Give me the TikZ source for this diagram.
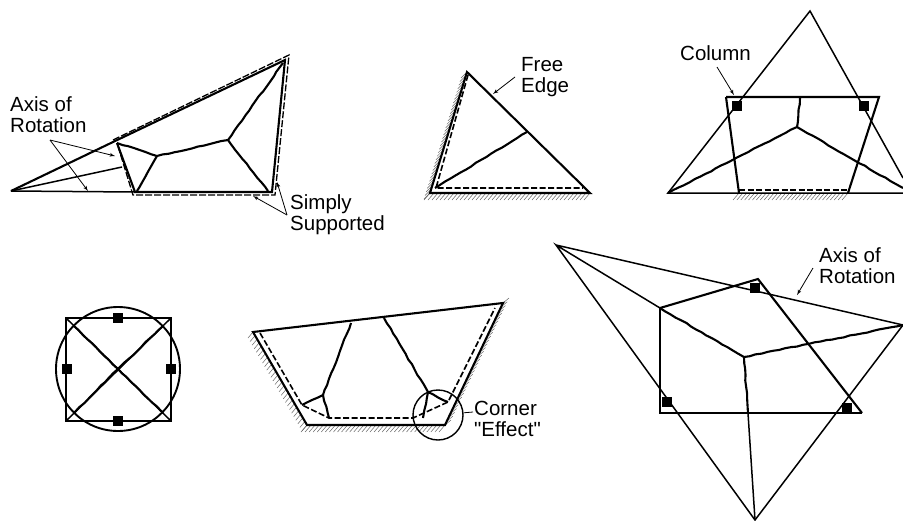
\documentclass[tikz,border=0pt]{standalone}
\usepackage{fontspec}
\newfontfamily\labelfont{Liberation Sans}
\usetikzlibrary{arrows,calc,decorations.pathmorphing}
\tikzset{
	edgeline/.style={line width=2.1pt},
	thinline/.style={line width=1.5pt},
	yieldline/.style={line width=2.1pt,decorate,decoration={random steps,segment length=6pt,amplitude=0.5pt}},
	hingeline/.style={line width=1.6pt,dash pattern=on 6pt off 2.5pt},
	hatchline/.style={line width=0.5pt,black!60},
	leader/.style={line width=0.8pt,-latex'},
	columnbox/.style={fill=black,minimum size=10pt,inner sep=0pt},
	labeltext/.style={align=left,anchor=west,inner sep=0pt,font=\labelfont\fontsize{20.5}{21}\selectfont}
}
\newcommand{\hatchband}[4]{\foreach \i in {0,...,#3} \draw[hatchline] ($(#1)!\i/#3!(#2)$) -- ++(#4);}
\begin{document}
\begin{tikzpicture}[x=1pt,y=-1pt]
	\useasboundingbox (0,0) rectangle (903,520);
	\coordinate (oa) at (11,191);
	\coordinate (ob) at (113,142);
	\coordinate (oc) at (285,60);
	\coordinate (od) at (272,192);
	\coordinate (oe) at (135,192);
	\coordinate (of) at (157,156);
	\coordinate (og) at (228,140);
	\coordinate (oh) at (122,167);
	\draw[thinline] (oa) -- (oe);
	\draw[thinline] (oa) -- (oh);
	\draw[edgeline] (oa) -- (ob) -- (oc) -- (od) -- (oe) -- (117,143);
	\draw[yieldline] (117,143) -- (of) -- (og) -- (283,63);
	\draw[yieldline] (og) -- (268,191);
	\draw[yieldline] (of) -- (137,191);
	\draw[line width=1.3pt,dash pattern=on 7pt off 2pt] (113,140) -- (289,55) -- (275,195) -- (133,195) -- (117,143);
	\node[labeltext] (axisa) at (10,115) {Axis of\\Rotation};
	\coordinate (axisafoot) at (50,140);
	\coordinate (axisatipa) at (115,156);
	\coordinate (axisatipb) at (88,191);
	\draw[leader] (axisafoot) -- (axisatipa);
	\draw[leader] (axisafoot) -- (axisatipb);
	\node[labeltext] (simply) at (290,215) {Simply\\Supported};
	\coordinate (simplyfoot) at (287,215);
	\coordinate (simplytipa) at (253,196);
	\coordinate (simplytipb) at (277,182);
	\draw[leader] (simplyfoot) -- (simplytipa);
	\draw[leader] (simplyfoot) -- (simplytipb);

	\coordinate (ta) at (467,72);
	\coordinate (tb) at (430,193);
	\coordinate (tc) at (590,193);
	\hatchband{ta}{tb}{34}{-6,6}
	\hatchband{tb}{tc}{40}{-6,7}
	\draw[edgeline] (ta) -- (tb) -- (tc) -- cycle;
	\draw[yieldline] (435,188) -- (527,132);
	\draw[hingeline] (468,75) -- (436,188) -- (583,188);
	\node[labeltext] (free) at (521,77) {Free\\Edge};
	\coordinate (freefoot) at (515,77);
	\coordinate (freetip) at (493,94);
	\draw[leader] (freefoot) -- (freetip);

	\coordinate (ua) at (810,11);
	\coordinate (ub) at (668,193);
	\coordinate (uc) at (903,193);
	\coordinate (ud) at (903,178);
	\coordinate (ue) at (726,97);
	\coordinate (uf) at (879,97);
	\coordinate (ug) at (848,193);
	\coordinate (uh) at (739,193);
	\coordinate (ui) at (797,127);
	\hatchband{uh}{ug}{28}{-6,7}
	\draw[thinline] (ud) -- (ua) -- (ub) -- (uc);
	\draw[edgeline] (ue) -- (uf) -- (ug);
	\draw[edgeline] (ue) -- (uh);
	\draw[yieldline] (800,98) -- (ui);
	\draw[yieldline] (ub) -- (ui) -- (903,188);
	\draw[hingeline] (739,190) -- (848,190);
	\node[columnbox] (cola) at (737,106) {};
	\node[columnbox] (colb) at (864,106) {};
	\node[labeltext] (column) at (680,53) {Column};
	\coordinate (columnfoot) at (717,67);
	\coordinate (columntip) at (734,95);
	\draw[leader] (columnfoot) -- (columntip);

	\coordinate (va) at (66,318);
	\coordinate (vb) at (171,318);
	\coordinate (vc) at (171,421);
	\coordinate (vd) at (66,421);
	\coordinate (ve) at (118,369);
	\draw[thinline] (va) rectangle (vc);
	\draw[line width=1.9pt] (ve) circle (62);
	\draw[thinline] (va) -- (vc);
	\draw[thinline] (vb) -- (vd);
	\draw[yieldline] (74,326) -- (ve) -- (163,413);
	\draw[yieldline] (163,326) -- (ve) -- (74,413);
	\node[columnbox] (cold) at (118,318) {};
	\node[columnbox] (cole) at (67,369) {};
	\node[columnbox] (colf) at (171,369) {};
	\node[columnbox] (colg) at (118,421) {};

	\coordinate (wa) at (253,332);
	\coordinate (wb) at (503,303);
	\coordinate (wc) at (445,425);
	\coordinate (wd) at (307,425);
	\coordinate (we) at (323,395);
	\coordinate (wf) at (428,392);
	\hatchband{wa}{wd}{26}{-5,6}
	\hatchband{wd}{wc}{34}{-6,7}
	\hatchband{wc}{wb}{32}{6,-5}
	\draw[edgeline] (wa) -- (wb) -- (wc) -- (wd) -- cycle;
	\draw[yieldline] (351,323) -- (we) -- (302,405);
	\draw[yieldline] (we) -- (329,418);
	\draw[yieldline] (384,318) -- (wf) -- (448,402);
	\draw[yieldline] (wf) -- (423,418);
	\draw[hingeline] (260,333) -- (302,405) -- (329,418) -- (413,418) -- (448,402) -- (495,308);
	\node[draw,circle,line width=1.4pt,minimum size=50pt,inner sep=0pt] (corner) at (438,415) {};
	\node[labeltext] (effect) at (474,419) {Corner\\"Effect"};
	\coordinate (cornerfoot) at (473,412);
	\draw[line width=0.8pt] (cornerfoot) -- (corner);

	\coordinate (xa) at (556,245);
	\coordinate (xb) at (903,325);
	\coordinate (xc) at (755,520);
	\coordinate (xd) at (660,308);
	\coordinate (xe) at (758,279);
	\coordinate (xf) at (862,413);
	\coordinate (xg) at (660,413);
	\coordinate (xh) at (744,357);
	\draw[thinline] (xa) -- (xb) -- (xc) -- (xa) -- (xd);
	\draw[edgeline] (xd) -- (xe) -- (xf);
	\draw[line width=1.7pt] (xf) -- (xg) -- (xd);
	\draw[yieldline] (xd) -- (xh) -- (xb);
	\draw[yieldline] (xh) -- (748,413);
	\draw[thinline] (748,413) -- (xc);
	\node[columnbox] (colh) at (755,288) {};
	\node[columnbox] (coli) at (667,402) {};
	\node[columnbox] (colj) at (847,408) {};
	\node[labeltext] (axisb) at (819,266) {Axis of\\Rotation};
	\coordinate (axisbfoot) at (813,268);
	\coordinate (axisbtip) at (797,295);
	\draw[leader] (axisbfoot) -- (axisbtip);
\end{tikzpicture}
\end{document}
